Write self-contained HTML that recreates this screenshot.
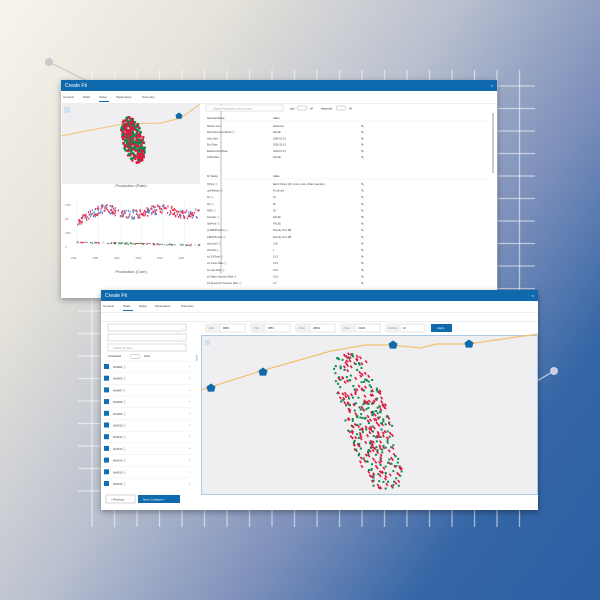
<!DOCTYPE html><html><head><meta charset="utf-8"><style>
*{margin:0;padding:0;box-sizing:border-box}
body{width:600px;height:600px;overflow:hidden;position:relative;font-family:"Liberation Sans",sans-serif;
background:linear-gradient(125deg,#f7f4ec 0%,#e6e3da 22%,#b9c0cf 45%,#7d90bb 65%,#3566a6 82%,#2a5fa2 100%)}
.abs{position:absolute}
.win{position:absolute;background:#fff;box-shadow:0 2px 6px rgba(0,0,0,.35)}
.tb{position:absolute;left:0;right:0;top:0;height:11px;background:#0e6aad;color:#fff;font-size:5px;padding:3px 4px}
.t{position:absolute;font-size:2.6px;color:#444;white-space:nowrap}
.tabs .t{font-size:3px}
</style></head><body>
<svg class="abs" style="left:0;top:0" width="600" height="600" id="bg"></svg>

<div class="win" style="left:61px;top:80px;width:436px;height:218px">
 <div class="tb">Create Fit<span style="float:right;font-size:4px">×</span></div>
 <div class="tabs"><span class="t" style="left:2px;top:15px">General</span><span class="t" style="left:22px;top:15px">Wells</span><span class="t" style="left:38px;top:15px">Setup</span><span class="t" style="left:55px;top:15px">Parameters</span><span class="t" style="left:81px;top:15px">Summary</span>
 <div class="abs" style="left:38px;top:21px;width:10px;height:1px;background:#0e6aad"></div></div>
 <div class="abs" style="left:0;top:23px;width:436px;height:1px;background:#eee"></div>
 <div class="abs" style="left:1px;top:24px;width:138px;height:80px;background:#efeef0"></div>
 <svg class="abs" style="left:0;top:0" width="436" height="218" id="w1"></svg>
</div>

<div class="win" style="left:101px;top:290px;width:437px;height:220px">
 <div class="tb">Create Fit<span style="float:right;font-size:4px">×</span></div>
 <div class="tabs"><span class="t" style="left:2px;top:14px">General</span><span class="t" style="left:22px;top:14px">Wells</span><span class="t" style="left:38px;top:14px">Setup</span><span class="t" style="left:54px;top:14px">Parameters</span><span class="t" style="left:80px;top:14px">Summary</span>
 <div class="abs" style="left:22px;top:20px;width:10px;height:1px;background:#0e6aad"></div></div>
 <div class="abs" style="left:0;top:22px;width:437px;height:1px;background:#eee"></div>
 <div class="abs" style="left:0;top:31px;width:437px;height:1px;background:#eee"></div>
 <div class="abs" style="left:100px;top:45px;width:337px;height:160px;background:#efeef1;border:1px solid #a9c9e6"></div>
 <svg class="abs" style="left:0;top:0" width="437" height="220" id="w2"></svg>
</div>
<script>
const NS="http://www.w3.org/2000/svg";
function el(p,t,a,txt){const e=document.createElementNS(NS,t);for(const k in a)e.setAttribute(k,a[k]);if(txt)e.textContent=txt;p.appendChild(e);return e}
let s=7;function r(){s=(s*16807)%2147483647;return s/2147483647}
const bg=document.getElementById('bg');
for(let x=92;x<=520;x+=22.5)el(bg,'line',{x1:x,y1:70,x2:x,y2:527,stroke:'#fff','stroke-opacity':.55,'stroke-width':1.3});
for(let y=86;y<=500;y+=22.5)el(bg,'line',{x1:78,y1:y,x2:535,y2:y,stroke:'#fff','stroke-opacity':.55,'stroke-width':1.3});
el(bg,'line',{x1:49,y1:62,x2:95,y2:85,stroke:'#c8c8cc','stroke-width':1.2});
el(bg,'circle',{cx:49,cy:62,r:4,fill:'#c9c9cc'});
el(bg,'line',{x1:530,y1:385,x2:554,y2:371,stroke:'#c8d0e0','stroke-width':1.2});
el(bg,'circle',{cx:554,cy:371,r:4,fill:'#c8d0e0'});
function pent(p,x,y,sz){el(p,'path',{d:`M${x} ${y-sz}L${x+sz} ${y-sz*.3}L${x+sz*.7} ${y+sz*.8}L${x-sz*.7} ${y+sz*.8}L${x-sz} ${y-sz*.3}Z`,fill:'#0e6aad'})}
const w1=document.getElementById('w1');
el(w1,'rect',{x:3,y:27,width:6,height:6,fill:'#cfe0ee'});
el(w1,'path',{d:'M0 56 L30 50 L62 44 L100 43 L120 38 L139 24',stroke:'#f3c26d','stroke-width':1,fill:'none'});
pent(w1,118,36,3.5);
for(let i=0;i<420;i++){let a=(r()-.5)*22,b=(r()-.5)*46;if((a*a)/121+(b*b)/529>1){i--;continue}
 let x=72+a+b*.2,y=60+b;el(w1,'rect',{x:x-1,y:y-1,width:2.2,height:2.2,fill:r()<.6?'#e0173f':'#0b8a4a'})}
el(w1,'text',{x:70,y:107,'font-size':4,fill:'#555','text-anchor':'middle','font-family':'Liberation Sans'},'Production (Rate)');
el(w1,'text',{x:70,y:193,'font-size':4,fill:'#555','text-anchor':'middle','font-family':'Liberation Sans'},'Production (Cum)');
[['1.5M',126],['1M',140],['0.5M',154],['0',168]].forEach(([t,y])=>el(w1,'text',{x:4,y:y,'font-size':2.5,fill:'#777'},t));
['1990','1995','2000','2005','2010','2015'].forEach((t,i)=>{el(w1,'text',{x:10+i*21.5,y:179,'font-size':2.5,fill:'#777'},t);el(w1,'line',{x1:16+i*21.5,y1:117,x2:16+i*21.5,y2:170,stroke:'#eee','stroke-width':.5})});
for(let i=0;i<260;i++){let x=15+r()*123;let y=131+Math.sin(x/9)*2.5+(x<40?8-(x-15)/3:0)+(r()-.5)*9;el(w1,'rect',{x:x,y:y,width:1.2,height:1.8,fill:r()<.7?'#e62a52':'#4a8fd0'})}
for(let i=0;i<120;i++){let x=15+r()*123;el(w1,'rect',{x:x,y:161+(x-15)/40+r()*1.5,width:1.5,height:.9,fill:['#0b8a4a','#e62a52','#999'][i%3]})}
el(w1,'rect',{x:159,y:24,width:2,height:170,fill:'#ddd'});
el(w1,'rect',{x:145,y:25,width:77,height:6,fill:'#fff',stroke:'#ccc','stroke-width':.5});
el(w1,'text',{x:152,y:29.5,'font-size':2.5,fill:'#999'},'Search Parameters/ enter to search');
el(w1,'text',{x:229,y:29.5,'font-size':2.6,fill:'#333'},'json');el(w1,'rect',{x:236,y:26,width:10,height:4,rx:2,fill:'#fff',stroke:'#999','stroke-width':.4});el(w1,'text',{x:249,y:29.5,'font-size':2.6,fill:'#333'},'off');
el(w1,'text',{x:260,y:29.5,'font-size':2.6,fill:'#333'},'advanced');el(w1,'rect',{x:275,y:26,width:10,height:4,rx:2,fill:'#fff',stroke:'#999','stroke-width':.4});el(w1,'text',{x:288,y:29.5,'font-size':2.6,fill:'#333'},'off');
el(w1,'rect',{x:431,y:33,width:2,height:60,fill:'#ccc'});
function rows(y0,head,list,dy){el(w1,'text',{x:146,y:y0,'font-size':2.7,fill:'#333'},head);el(w1,'text',{x:212,y:y0,'font-size':2.7,fill:'#333'},'Value');
 el(w1,'line',{x1:145,y1:y0+2,x2:430,y2:y0+2,stroke:'#eee','stroke-width':.5});
 list.forEach((l,i)=>{let y=y0+8+i*dy;el(w1,'text',{x:146,y:y,'font-size':2.5,fill:'#444'},l[0]);el(w1,'text',{x:212,y:y,'font-size':2.5,fill:'#444'},l[1]);el(w1,'text',{x:300,y:y+.5,'font-size':3.5,fill:'#111'},'✎')})}
rows(39,'General Setup',[['Model Level','WellLevel'],['Multi-Reservoir Model ⓘ','FALSE'],['Start Date','1990-01-01'],['End Date','2018-12-01'],['Backtest End Date','2009-07-01'],['Is Backtest','FALSE']],6.2);
rows(97,'Fit Setup',[['fitType ⓘ','Each Choice (Oil, Gross, Gas, Water Injection)'],['optFitMode ⓘ','Fit all rate'],['Nc ⓘ','10'],['Nm ⓘ','50'],['NMC ⓘ','30'],['isotropic ⓘ','FALSE'],['IdeiProd ⓘ','FALSE'],['prodBHPSource ⓘ','Directly from DB'],['injBHPSource ⓘ','Directly from DB'],['wSmooth ⓘ','0.02'],['sfCutoff ⓘ','1'],['scl Oil Rate ⓘ','0.15'],['scl Gross Rate ⓘ','0.15'],['scl Gas Rate ⓘ','0.15'],['scl Water Injection Rate ⓘ','0.15'],['scl Reservoir Pressure Rate ⓘ','0.4']],6.6);
const w2=document.getElementById('w2');
[34,44].forEach(y=>{el(w2,'rect',{x:7,y:y,width:78,height:7,fill:'#fff',stroke:'#bbb','stroke-width':.5});el(w2,'text',{x:80,y:y+5,'font-size':3,fill:'#999'},'⌄')});
el(w2,'rect',{x:7,y:54,width:78,height:7,fill:'#fff',stroke:'#bbb','stroke-width':.5});el(w2,'text',{x:11,y:59,'font-size':2.5,fill:'#999'},'⌕  Search by name');
el(w2,'text',{x:7,y:67,'font-size':2.6,fill:'#333'},'Unselected');el(w2,'rect',{x:29,y:64.5,width:10,height:4,rx:2,fill:'#fff',stroke:'#999','stroke-width':.4});el(w2,'text',{x:43,y:67,'font-size':2.6,fill:'#333'},'show');
['Well004','Well005','Well007','Well008','Well009','Well010','Well012','Well013','Well014','Well015','Well016'].forEach((w,i)=>{let y=71+i*11.7;
 el(w2,'line',{x1:0,y1:y,x2:95,y2:y,stroke:'#eee','stroke-width':.5});
 el(w2,'rect',{x:3,y:y+3,width:5,height:5,fill:'#1170b5'});el(w2,'text',{x:12,y:y+7,'font-size':2.6,fill:'#444'},w+' ⓘ');el(w2,'text',{x:88,y:y+7,'font-size':3,fill:'#1170b5'},'^')});
el(w2,'rect',{x:95,y:65,width:1.5,height:6,fill:'#ccc'});
el(w2,'rect',{x:5,y:205,width:29,height:8,fill:'#fff',stroke:'#aaa','stroke-width':.5});el(w2,'text',{x:10,y:210.5,'font-size':2.8,fill:'#333'},'< Previous');
el(w2,'rect',{x:37,y:205,width:42,height:8,fill:'#0e6aad'});el(w2,'text',{x:42,y:210.5,'font-size':2.8,fill:'#fff'},'Next: Configure >');
['x Min|9899','y Min|9853','x Max|28661','y Max|41326','Padding|10'].forEach((f,i)=>{let x=105+i*45,[a,b]=f.split('|');
 el(w2,'rect',{x:x,y:34,width:39,height:8,fill:'#fff',stroke:'#ccc','stroke-width':.5});el(w2,'rect',{x:x,y:34,width:15,height:8,fill:'#f1f1f1'});
 el(w2,'text',{x:x+2,y:39,'font-size':2.6,fill:'#999'},a);el(w2,'text',{x:x+17,y:39,'font-size':2.6,fill:'#333'},b)});
el(w2,'rect',{x:330,y:34,width:21,height:8,fill:'#0e6aad'});el(w2,'text',{x:336,y:39,'font-size':2.8,fill:'#fff'},'Apply');
el(w2,'rect',{x:104,y:50,width:5,height:5,fill:'#cfe0ee'});
el(w2,'path',{d:'M100 100 L160 81 L230 61 L265 55 L290 55 L320 58 L335 54 L368 54 L395 50 L437 44',stroke:'#f3c26d','stroke-width':1.2,fill:'none'});
pent(w2,110,98,4.5);pent(w2,162,82,4.5);pent(w2,292,55,4.5);pent(w2,368,54,4.5);
for(let i=0;i<380;i++){let a=(r()-.5)*46,b=(r()-.5)*136;let e=Math.pow(Math.abs(a)/23,4)+Math.pow(Math.abs(b)/68,2);if(e>1){i--;continue}
 let x=266+a+b*.3,y=131+b;if(r()<.55)el(w2,'rect',{x:x,y:y,width:1.6,height:3,fill:'#e0173f',transform:`rotate(-35 ${x} ${y})`});else el(w2,'rect',{x:x,y:y,width:2,height:2,fill:'#0b8a4a'})}
</script>
</body></html>
